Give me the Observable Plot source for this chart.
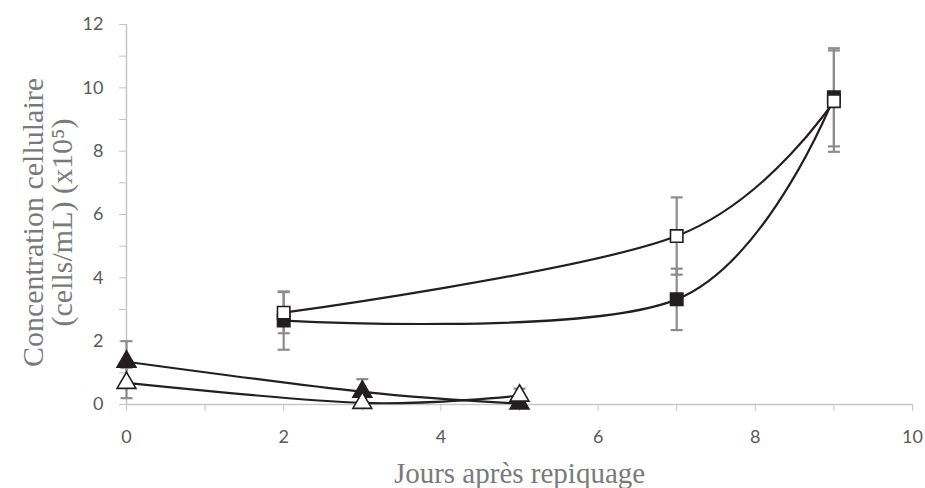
<!DOCTYPE html>
<html>
<head>
<meta charset="utf-8">
<script src="https://cdn.jsdelivr.net/npm/d3@7"></script>
<script src="https://cdn.jsdelivr.net/npm/@observablehq/plot@0.6"></script>
<style>
  html, body { margin: 0; padding: 0; background: #fff; }
</style>
</head>
<body>
<div id="chart"></div>
<script>
// ---- Data ----
const squareDays = [2, 7, 9];
const filledSquare = [2.65, 3.32, 9.7];
const filledSquareErr = [0.92, 0.97, 1.55];
const openSquare = [2.9, 5.32, 9.58];
const openSquareErr = [0.65, 1.22, 1.6];

const triangleDays = [0, 3, 5];
const filledTriangle = [1.35, 0.4, 0.03];
const filledTriangleErr = [0.65, 0.4, 0.03];
const openTriangle = [0.68, 0.05, 0.28];
const openTriangleErr = [0.48, 0.03, 0.22];

const xTicks = [0, 1, 2, 3, 4, 5, 6, 7, 8, 9, 10];
const yTicks = [0, 1, 2, 3, 4, 5, 6, 7, 8, 9, 10, 11, 12];

const xTitle = "Jours après repiquage";
const yTitle = "Concentration cellulaire\n(cells/mL) (x10⁵)";

// ---- Build series table ----
const seriesDefs = [
  {key: "filledSquare", days: squareDays, values: filledSquare, err: filledSquareErr, symbol: "square", fill: "#231f20"},
  {key: "openSquare", days: squareDays, values: openSquare, err: openSquareErr, symbol: "square", fill: "#ffffff"},
  {key: "filledTriangle", days: triangleDays, values: filledTriangle, err: filledTriangleErr, symbol: "triangle", fill: "#231f20"},
  {key: "openTriangle", days: triangleDays, values: openTriangle, err: openTriangleErr, symbol: "triangle", fill: "#ffffff"}
];
const rows = seriesDefs.flatMap(s => s.days.map((d, i) => ({
  series: s.key, day: d, value: s.values[i], err: s.err[i],
  lo: s.values[i] - s.err[i], hi: s.values[i] + s.err[i],
  symbol: s.symbol, fill: s.fill
})));

const capSymbol = {
  draw(context, size) {
    context.moveTo(-6, 0);
    context.lineTo(6, 0);
  }
};

const errColor = "#8c8c8c";
const axisColor = "#c6c6c6";
const labelColor = "#595959";
const titleColor = "#7a7a7a";

const marks = [
  Plot.ruleY([0], {x1: 0, x2: 10, stroke: axisColor, strokeWidth: 1.5}),
  Plot.ruleX([0], {y1: 0, y2: 12, stroke: axisColor, strokeWidth: 1.5}),
  Plot.axisY({ticks: yTicks, tickSize: 7, tickPadding: 16, stroke: axisColor, fill: labelColor, label: null,
    tickFormat: d => d % 2 === 0 ? String(d) : "", fontSize: 18, fontFamily: "Lato"}),
  Plot.axisX({ticks: xTicks, tickSize: 7, tickPadding: 19, stroke: axisColor, fill: labelColor, label: null,
    tickFormat: d => d % 2 === 0 ? String(d) : "", fontSize: 18, fontFamily: "Lato"}),
  // error bars
  Plot.ruleX(rows, {x: "day", y1: "lo", y2: "hi", stroke: errColor, strokeWidth: 2.2}),
  Plot.dot(rows, {x: "day", y: "hi", symbol: capSymbol, stroke: errColor, strokeWidth: 2.2, fill: "none"}),
  Plot.dot(rows, {x: "day", y: "lo", symbol: capSymbol, stroke: errColor, strokeWidth: 2.2, fill: "none"}),
  // smoothed lines
  Plot.line(rows, {x: "day", y: "value", z: "series", curve: "cardinal", stroke: "#231f20", strokeWidth: 2.2}),
  // markers
  Plot.dot(rows, {x: "day", y: "value", symbol: "symbol", fill: "fill", stroke: "#231f20", strokeWidth: 1.6, r: 7}),
  // axis titles
  Plot.text([yTitle], {frameAnchor: "left", dx: -78, dy: 8, rotate: -90, textAnchor: "middle", lineAnchor: "middle",
    fontFamily: "Liberation Serif", fontSize: 30, fill: titleColor, lineHeight: 0.95}),
  Plot.text([xTitle], {frameAnchor: "bottom", dy: 69, textAnchor: "middle", lineAnchor: "middle",
    fontFamily: "Liberation Serif", fontSize: 29, fill: titleColor})
];

const chart = Plot.plot({
  width: 925,
  height: 488,
  marginLeft: 126,
  marginRight: 13,
  marginTop: 24,
  marginBottom: 84,
  x: {domain: [0, 10]},
  y: {domain: [0, 12]},
  symbol: {type: "identity"},
  color: {type: "identity"},
  style: {background: "#fff", overflow: "visible"},
  marks
});
document.getElementById("chart").appendChild(chart);
</script>
</body>
</html>
